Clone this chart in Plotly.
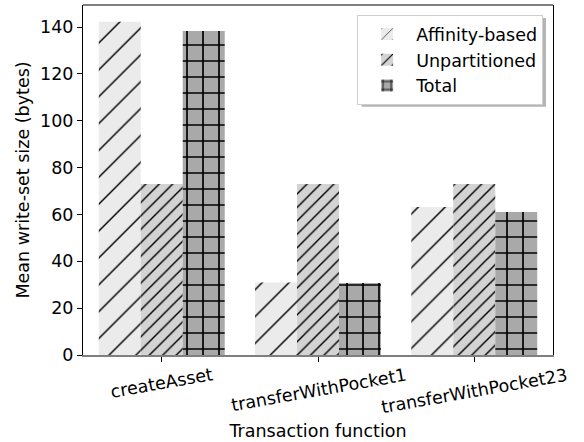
import plotly.graph_objects as go

categories = ["createAsset", "transferWithPocket1", "transferWithPocket23"]
series_names = ["Affinity-based", "Unpartitioned", "Total"]
affinity = [142.2, 31.0, 63.2]
unpartitioned = [73.0, 73.0, 73.0]
total = [138.3, 30.7, 61.0]
y_ticks = [0, 20, 40, 60, 80, 100, 120, 140]

series_values = [affinity, unpartitioned, total]
fills = ["#ebebeb", "#d3d3d3", "#a9a9a9"]
patterns = [
    dict(shape="/", size=19, solidity=0.075, fgcolor="black", fgopacity=1, fillmode="overlay"),
    dict(shape="/", size=9.5, solidity=0.15, fgcolor="black", fgopacity=1, fillmode="overlay"),
    dict(shape="+", size=16, solidity=0.2, fgcolor="black", fgopacity=1, fillmode="overlay"),
]

FONT = "DejaVu Sans"
FS = 17.5
fig = go.Figure()
for name, vals, col, pat in zip(series_names, series_values, fills, patterns):
    fig.add_trace(go.Bar(
        x=categories, y=vals, name=name,
        marker=dict(color=col, line=dict(width=0), pattern=pat),
    ))

annotations = []
for c in categories:
    annotations.append(dict(
        x=c, xref="x", y=-0.02, yref="paper", text=c, showarrow=False,
        textangle=-10, xanchor="center", yanchor="top",
        font=dict(family=FONT, size=FS, color="black"),
    ))

fig.update_layout(
    width=584, height=442,
    margin=dict(l=83, r=31, t=5, b=87),
    paper_bgcolor="white", plot_bgcolor="white",
    barmode="group", bargap=0.194, bargroupgap=0,
    font=dict(family=FONT, size=FS, color="black"),
    showlegend=True,
    legend=dict(
        x=0.979, y=0.971, xanchor="right", yanchor="top",
        bgcolor="white", bordercolor="#cfcfcf", borderwidth=1,
        font=dict(family=FONT, size=FS, color="black"),
        tracegroupgap=0, itemwidth=48,
    ),
    xaxis=dict(
        range=[-0.504, 2.504], showticklabels=False, automargin=False,
        ticks="outside", ticklen=5, tickcolor="black", tickwidth=1,
        showline=True, linecolor="#7f7f7f", linewidth=2, mirror=False,
        showgrid=False, zeroline=False,
        title=dict(text="Transaction function", standoff=64,
                   font=dict(family=FONT, size=FS, color="black")),
    ),
    yaxis=dict(
        range=[0, 149.4], tickvals=y_ticks, automargin=False,
        ticks="outside", ticklen=5, tickcolor="black", tickwidth=1,
        showline=True, linecolor="black", linewidth=1, mirror=True,
        showgrid=False, zeroline=False,
        tickfont=dict(family=FONT, size=FS, color="black"),
        title=dict(text="Mean write-set size (bytes)", standoff=5,
                   font=dict(family=FONT, size=FS, color="black")),
    ),
    annotations=annotations,
    shapes=[
        dict(type="line", xref="paper", yref="paper", x0=0, x1=1, y0=1, y1=1,
             line=dict(color="black", width=1)),
        dict(type="rect", xref="paper", yref="paper", layer="above",
             x0=0.593, x1=0.985, y0=0.709, y1=0.963,
             fillcolor="#b4b4b4", line=dict(width=0)),
    ],
)

fig.write_html("out.html", config={"displayModeBar": False},
               post_script="document.body.style.margin='0';")
